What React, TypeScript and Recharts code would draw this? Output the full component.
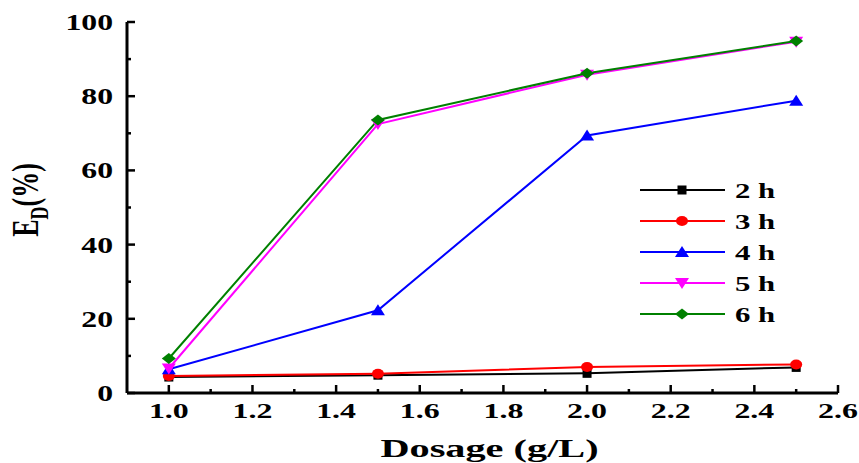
import { LineChart, Line, XAxis, YAxis } from 'recharts';

// dosage (g/L)
const dosage = [1.0, 1.5, 2.0, 2.5];

// E_D (%) for each contact time
const ed2h = [4.3, 4.8, 5.3, 6.9];
const ed3h = [4.6, 5.2, 7.0, 7.7];
const ed4h = [6.4, 22.3, 69.4, 78.8];
const ed5h = [6.6, 72.5, 85.8, 94.7];
const ed6h = [9.3, 73.6, 86.2, 94.9];

const xTicks = [1.0, 1.1, 1.2, 1.3, 1.4, 1.5, 1.6, 1.7, 1.8, 1.9, 2.0, 2.1, 2.2, 2.3, 2.4, 2.5, 2.6];
const yTicks = [0, 10, 20, 30, 40, 50, 60, 70, 80, 90, 100];

const seriesNames = ['2 h', '3 h', '4 h', '5 h', '6 h'];
const seriesColors = ['#000000', '#ff0000', '#0000ff', '#ff00ff', '#008000'];
const seriesShapes = ['square', 'circle', 'triangle', 'triangleDown', 'diamond'];

const data = dosage.map((d, i) => ({
  dosage: d,
  s0: ed2h[i],
  s1: ed3h[i],
  s2: ed4h[i],
  s3: ed5h[i],
  s4: ed6h[i],
}));

const FONT = 'Liberation Serif, Times New Roman, serif';

function Marker({ shape, cx, cy, color }: { shape: string; cx: number; cy: number; color: string }) {
  if (cx == null || cy == null) return null;
  switch (shape) {
    case 'square':
      return <rect x={cx - 4.5} y={cy - 4.5} width={9} height={9} fill={color} />;
    case 'circle':
      return <ellipse cx={cx} cy={cy} rx={6} ry={5} fill={color} />;
    case 'triangle':
      return <polygon points={`${cx},${cy - 6} ${cx + 7},${cy + 5} ${cx - 7},${cy + 5}`} fill={color} />;
    case 'triangleDown':
      return <polygon points={`${cx},${cy + 6} ${cx + 7},${cy - 5} ${cx - 7},${cy - 5}`} fill={color} />;
    default:
      return <polygon points={`${cx},${cy - 5.5} ${cx + 7},${cy} ${cx},${cy + 5.5} ${cx - 7},${cy}`} fill={color} />;
  }
}

function XTick(props: any) {
  const { x, y, payload } = props;
  const v = payload.value;
  const major = Math.round(v * 10) % 2 === 0;
  return (
    <g>
      <line x1={x} x2={x} y1={y} y2={y - (major ? 8 : 4)} stroke="#000" strokeWidth={2.5} />
      {major && (
        <text
          transform={`translate(${x},${y + 25}) scale(1.45,1)`}
          textAnchor="middle"
          fontFamily={FONT}
          fontWeight="bold"
          fontSize={22}
          fill="#000"
        >
          {v.toFixed(1)}
        </text>
      )}
    </g>
  );
}

function YTick(props: any) {
  const { x, y, payload } = props;
  const v = payload.value;
  const major = v % 20 === 0;
  return (
    <g>
      <line x1={x} x2={x + (major ? 8 : 4)} y1={y} y2={y} stroke="#000" strokeWidth={2.5} />
      {major && (
        <text
          transform={`translate(${x - 14},${y + 8}) scale(1.38,1)`}
          textAnchor="end"
          fontFamily={FONT}
          fontWeight="bold"
          fontSize={23}
          fill="#000"
        >
          {v}
        </text>
      )}
    </g>
  );
}

function LegendBox() {
  return (
    <svg width={170} height={150} style={{ position: 'absolute', left: 638, top: 178 }}>
      {seriesNames.map((name, i) => {
        const y = 12 + i * 31;
        return (
          <g key={name}>
            <line x1={2} x2={87} y1={y} y2={y} stroke={seriesColors[i]} strokeWidth={2} />
            <Marker shape={seriesShapes[i]} cx={44} cy={y} color={seriesColors[i]} />
            <text
              transform={`translate(97,${y + 8}) scale(1.4,1)`}
              fontFamily={FONT}
              fontWeight="bold"
              fontSize={22}
              fill="#000"
            >
              {name}
            </text>
          </g>
        );
      })}
    </svg>
  );
}

export default function App() {
  return (
    <div style={{ position: 'absolute', left: 0, top: 0, width: 859, height: 463, background: '#fff' }}>
      <LineChart width={859} height={463} data={data} margin={{ top: 22, right: 21, left: 0, bottom: 0 }}>
        <XAxis
          dataKey="dosage"
          type="number"
          domain={[0.9, 2.6]}
          ticks={xTicks}
          interval={0}
          height={70}
          tickSize={0}
          tickMargin={0}
          tickLine={false}
          tick={<XTick />}
          axisLine={{ stroke: '#000', strokeWidth: 3 }}
          label={{
            content: (p: any) => {
              const vb = p.viewBox;
              return (
                <text
                  transform={`translate(${vb.x + vb.width / 2 + 7},${vb.y + 64}) scale(1.55,1)`}
                  textAnchor="middle"
                  fontFamily={FONT}
                  fontWeight="bold"
                  fontSize={26}
                  fill="#000"
                >
                  Dosage (g/L)
                </text>
              );
            },
          }}
        />
        <XAxis xAxisId="top" orientation="top" type="number" domain={[0.9, 2.6]} height={0} tick={false} tickLine={false} axisLine={{ stroke: '#000', strokeWidth: 2.5 }} />
        <YAxis
          type="number"
          domain={[0, 100]}
          ticks={yTicks}
          interval={0}
          width={127}
          tickSize={0}
          tickMargin={0}
          tickLine={false}
          tick={<YTick />}
          axisLine={{ stroke: '#000', strokeWidth: 3 }}
          label={{
            content: () => (
              <text
                transform="translate(38,200) scale(1.45,1) rotate(-90)"
                textAnchor="middle"
                fontFamily={FONT}
                fontWeight="bold"
                fontSize={26}
                fill="#000"
              >
                E
                <tspan fontSize={18} dy={7}>D</tspan>
                <tspan dy={-7}>(%)</tspan>
              </text>
            ),
          }}
        />
        <YAxis yAxisId="right" orientation="right" type="number" domain={[0, 100]} width={0} tick={false} tickLine={false} axisLine={{ stroke: '#000', strokeWidth: 3 }} />
        {seriesNames.map((name, i) => (
          <Line
            key={name}
            name={name}
            dataKey={`s${i}`}
            stroke={seriesColors[i]}
            strokeWidth={2}
            isAnimationActive={false}
            dot={(p: any) => <Marker key={`${name}-${p.index}`} shape={seriesShapes[i]} cx={p.cx} cy={p.cy} color={seriesColors[i]} />}
            activeDot={false}
          />
        ))}
      </LineChart>
      <LegendBox />
    </div>
  );
}
